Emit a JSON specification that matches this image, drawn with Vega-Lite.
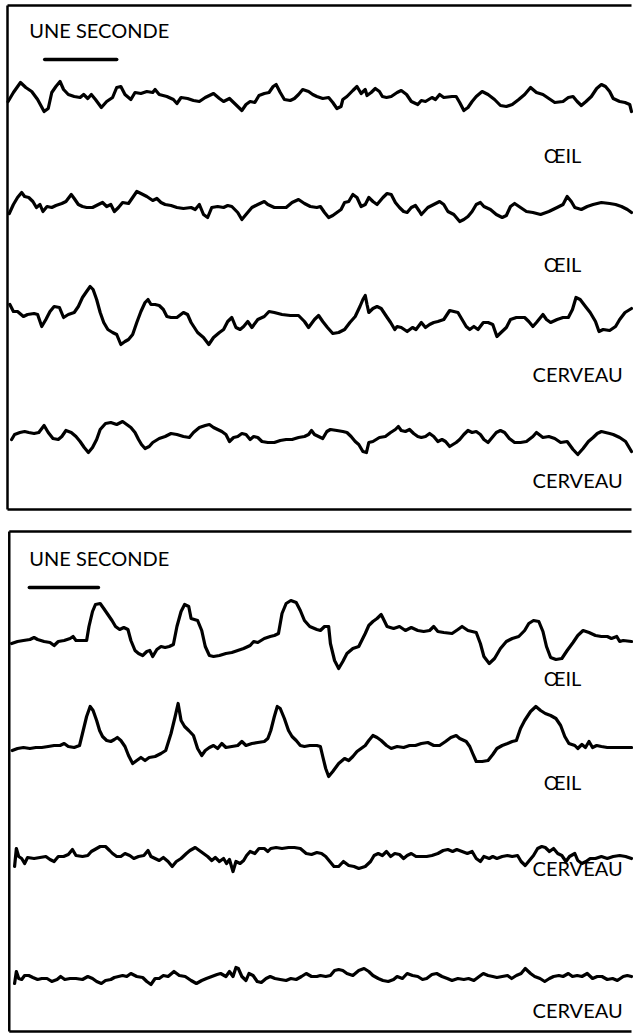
{
"$schema":"https://vega.github.io/schema/vega-lite/v6.json",
"padding":{"left":5.5,"top":3.5,"right":0,"bottom":0},
"background":"white",
"config":{"view":{"stroke":null},"text":{"font":"Lato","fontSize":20,"color":"#000"}},
"spacing":18,
"datasets":{
"top":[
{"s":"a","t":0.01,"v":408},{"s":"a","t":0.10,"v":417},{"s":"a","t":0.22,"v":427},{"s":"a","t":0.31,"v":422},{"s":"a","t":0.41,"v":418},{"s":"a","t":0.51,"v":410},{"s":"a","t":0.62,"v":398},{"s":"a","t":0.69,"v":401},{"s":"a","t":0.75,"v":417},{"s":"a","t":0.82,"v":423},{"s":"a","t":0.89,"v":428},{"s":"a","t":0.95,"v":420},{"s":"a","t":1.03,"v":415},{"s":"a","t":1.13,"v":413},{"s":"a","t":1.23,"v":412},{"s":"a","t":1.29,"v":415},{"s":"a","t":1.36,"v":411},{"s":"a","t":1.42,"v":415},{"s":"a","t":1.49,"v":410},{"s":"a","t":1.59,"v":402},{"s":"a","t":1.68,"v":408},{"s":"a","t":1.78,"v":412},{"s":"a","t":1.85,"v":422},{"s":"a","t":1.92,"v":423},{"s":"a","t":1.99,"v":415},{"s":"a","t":2.09,"v":410},{"s":"a","t":2.16,"v":417},{"s":"a","t":2.26,"v":416},{"s":"a","t":2.36,"v":418},{"s":"a","t":2.46,"v":417},{"s":"a","t":2.50,"v":420},{"s":"a","t":2.57,"v":415},{"s":"a","t":2.70,"v":413},{"s":"a","t":2.81,"v":410},{"s":"a","t":2.87,"v":406},{"s":"a","t":2.94,"v":412},{"s":"a","t":3.05,"v":411},{"s":"a","t":3.15,"v":409},{"s":"a","t":3.25,"v":408},{"s":"a","t":3.35,"v":412},{"s":"a","t":3.42,"v":414},{"s":"a","t":3.49,"v":416},{"s":"a","t":3.59,"v":411},{"s":"a","t":3.66,"v":408},{"s":"a","t":3.76,"v":411},{"s":"a","t":3.83,"v":407},{"s":"a","t":3.90,"v":403},{"s":"a","t":3.97,"v":399},{"s":"a","t":4.04,"v":405},{"s":"a","t":4.11,"v":408},{"s":"a","t":4.19,"v":407},{"s":"a","t":4.26,"v":414},{"s":"a","t":4.35,"v":416},{"s":"a","t":4.43,"v":417},{"s":"a","t":4.50,"v":423},{"s":"a","t":4.55,"v":425},{"s":"a","t":4.62,"v":417},{"s":"a","t":4.69,"v":410},{"s":"a","t":4.79,"v":409},{"s":"a","t":4.86,"v":411},{"s":"a","t":4.93,"v":415},{"s":"a","t":5.00,"v":420},{"s":"a","t":5.10,"v":418},{"s":"a","t":5.17,"v":415},{"s":"a","t":5.24,"v":413},{"s":"a","t":5.34,"v":411},{"s":"a","t":5.44,"v":412},{"s":"a","t":5.51,"v":407},{"s":"a","t":5.58,"v":401},{"s":"a","t":5.65,"v":403},{"s":"a","t":5.68,"v":410},{"s":"a","t":5.75,"v":413},{"s":"a","t":5.85,"v":419},{"s":"a","t":5.92,"v":423},{"s":"a","t":5.99,"v":416},{"s":"a","t":6.06,"v":420},{"s":"a","t":6.09,"v":414},{"s":"a","t":6.16,"v":417},{"s":"a","t":6.23,"v":421},{"s":"a","t":6.30,"v":418},{"s":"a","t":6.35,"v":413},{"s":"a","t":6.42,"v":412},{"s":"a","t":6.50,"v":413},{"s":"a","t":6.60,"v":417},{"s":"a","t":6.67,"v":419},{"s":"a","t":6.76,"v":415},{"s":"a","t":6.84,"v":408},{"s":"a","t":6.95,"v":405},{"s":"a","t":7.01,"v":409},{"s":"a","t":7.08,"v":408},{"s":"a","t":7.19,"v":412},{"s":"a","t":7.25,"v":410},{"s":"a","t":7.32,"v":415},{"s":"a","t":7.39,"v":412},{"s":"a","t":7.53,"v":413},{"s":"a","t":7.60,"v":413},{"s":"a","t":7.66,"v":407},{"s":"a","t":7.73,"v":399},{"s":"a","t":7.80,"v":402},{"s":"a","t":7.87,"v":408},{"s":"a","t":7.94,"v":413},{"s":"a","t":8.04,"v":418},{"s":"a","t":8.14,"v":415},{"s":"a","t":8.25,"v":410},{"s":"a","t":8.35,"v":404},{"s":"a","t":8.45,"v":403},{"s":"a","t":8.55,"v":405},{"s":"a","t":8.66,"v":410},{"s":"a","t":8.76,"v":415},{"s":"a","t":8.86,"v":422},{"s":"a","t":8.96,"v":417},{"s":"a","t":9.07,"v":415},{"s":"a","t":9.17,"v":411},{"s":"a","t":9.27,"v":407},{"s":"a","t":9.41,"v":408},{"s":"a","t":9.50,"v":412},{"s":"a","t":9.58,"v":413},{"s":"a","t":9.65,"v":408},{"s":"a","t":9.72,"v":404},{"s":"a","t":9.80,"v":408},{"s":"a","t":9.89,"v":413},{"s":"a","t":9.98,"v":421},{"s":"a","t":10.06,"v":425},{"s":"a","t":10.13,"v":423},{"s":"a","t":10.20,"v":418},{"s":"a","t":10.26,"v":411},{"s":"a","t":10.37,"v":408},{"s":"a","t":10.46,"v":407},{"s":"a","t":10.54,"v":405},{"s":"a","t":10.57,"v":398},
{"s":"b","t":0.03,"v":296},{"s":"b","t":0.10,"v":305},{"s":"b","t":0.17,"v":312},{"s":"b","t":0.24,"v":317},{"s":"b","t":0.29,"v":313},{"s":"b","t":0.36,"v":312},{"s":"b","t":0.43,"v":308},{"s":"b","t":0.49,"v":302},{"s":"b","t":0.55,"v":305},{"s":"b","t":0.60,"v":298},{"s":"b","t":0.67,"v":303},{"s":"b","t":0.75,"v":302},{"s":"b","t":0.82,"v":304},{"s":"b","t":0.92,"v":306},{"s":"b","t":0.99,"v":308},{"s":"b","t":1.08,"v":315},{"s":"b","t":1.13,"v":311},{"s":"b","t":1.20,"v":305},{"s":"b","t":1.27,"v":303},{"s":"b","t":1.34,"v":302},{"s":"b","t":1.44,"v":302},{"s":"b","t":1.54,"v":305},{"s":"b","t":1.61,"v":307},{"s":"b","t":1.68,"v":303},{"s":"b","t":1.75,"v":305},{"s":"b","t":1.81,"v":298},{"s":"b","t":1.88,"v":302},{"s":"b","t":1.95,"v":307},{"s":"b","t":2.05,"v":306},{"s":"b","t":2.12,"v":312},{"s":"b","t":2.19,"v":318},{"s":"b","t":2.26,"v":316},{"s":"b","t":2.36,"v":313},{"s":"b","t":2.46,"v":309},{"s":"b","t":2.53,"v":311},{"s":"b","t":2.60,"v":307},{"s":"b","t":2.67,"v":305},{"s":"b","t":2.77,"v":304},{"s":"b","t":2.87,"v":302},{"s":"b","t":2.98,"v":301},{"s":"b","t":3.11,"v":302},{"s":"b","t":3.18,"v":300},{"s":"b","t":3.25,"v":305},{"s":"b","t":3.32,"v":295},{"s":"b","t":3.39,"v":292},{"s":"b","t":3.46,"v":302},{"s":"b","t":3.56,"v":303},{"s":"b","t":3.66,"v":302},{"s":"b","t":3.73,"v":304},{"s":"b","t":3.80,"v":303},{"s":"b","t":3.90,"v":297},{"s":"b","t":3.97,"v":290},{"s":"b","t":4.04,"v":295},{"s":"b","t":4.14,"v":302},{"s":"b","t":4.24,"v":305},{"s":"b","t":4.35,"v":308},{"s":"b","t":4.41,"v":305},{"s":"b","t":4.52,"v":302},{"s":"b","t":4.62,"v":302},{"s":"b","t":4.72,"v":302},{"s":"b","t":4.82,"v":307},{"s":"b","t":4.93,"v":310},{"s":"b","t":5.03,"v":306},{"s":"b","t":5.13,"v":303},{"s":"b","t":5.24,"v":302},{"s":"b","t":5.30,"v":303},{"s":"b","t":5.37,"v":297},{"s":"b","t":5.44,"v":292},{"s":"b","t":5.51,"v":294},{"s":"b","t":5.58,"v":297},{"s":"b","t":5.65,"v":300},{"s":"b","t":5.71,"v":307},{"s":"b","t":5.78,"v":308},{"s":"b","t":5.85,"v":315},{"s":"b","t":5.92,"v":312},{"s":"b","t":5.99,"v":303},{"s":"b","t":6.06,"v":305},{"s":"b","t":6.12,"v":312},{"s":"b","t":6.19,"v":308},{"s":"b","t":6.26,"v":305},{"s":"b","t":6.36,"v":312},{"s":"b","t":6.43,"v":316},{"s":"b","t":6.50,"v":315},{"s":"b","t":6.57,"v":307},{"s":"b","t":6.64,"v":302},{"s":"b","t":6.71,"v":298},{"s":"b","t":6.77,"v":297},{"s":"b","t":6.84,"v":302},{"s":"b","t":6.91,"v":304},{"s":"b","t":6.98,"v":298},{"s":"b","t":7.01,"v":295},{"s":"b","t":7.12,"v":302},{"s":"b","t":7.22,"v":305},{"s":"b","t":7.32,"v":308},{"s":"b","t":7.39,"v":305},{"s":"b","t":7.46,"v":298},{"s":"b","t":7.56,"v":295},{"s":"b","t":7.66,"v":288},{"s":"b","t":7.73,"v":290},{"s":"b","t":7.80,"v":293},{"s":"b","t":7.87,"v":298},{"s":"b","t":7.94,"v":305},{"s":"b","t":8.01,"v":307},{"s":"b","t":8.07,"v":303},{"s":"b","t":8.18,"v":300},{"s":"b","t":8.28,"v":295},{"s":"b","t":8.38,"v":292},{"s":"b","t":8.45,"v":294},{"s":"b","t":8.52,"v":303},{"s":"b","t":8.59,"v":306},{"s":"b","t":8.69,"v":302},{"s":"b","t":8.79,"v":298},{"s":"b","t":8.90,"v":297},{"s":"b","t":9.03,"v":295},{"s":"b","t":9.17,"v":298},{"s":"b","t":9.31,"v":302},{"s":"b","t":9.41,"v":305},{"s":"b","t":9.48,"v":313},{"s":"b","t":9.55,"v":308},{"s":"b","t":9.61,"v":302},{"s":"b","t":9.72,"v":300},{"s":"b","t":9.82,"v":303},{"s":"b","t":9.92,"v":305},{"s":"b","t":10.06,"v":307},{"s":"b","t":10.20,"v":306},{"s":"b","t":10.30,"v":305},{"s":"b","t":10.40,"v":303},{"s":"b","t":10.50,"v":300},{"s":"b","t":10.57,"v":297},
{"s":"c","t":0.04,"v":205},{"s":"c","t":0.10,"v":198},{"s":"c","t":0.17,"v":198},{"s":"c","t":0.27,"v":193},{"s":"c","t":0.34,"v":195},{"s":"c","t":0.45,"v":196},{"s":"c","t":0.51,"v":195},{"s":"c","t":0.58,"v":183},{"s":"c","t":0.65,"v":190},{"s":"c","t":0.72,"v":198},{"s":"c","t":0.79,"v":203},{"s":"c","t":0.88,"v":202},{"s":"c","t":0.95,"v":192},{"s":"c","t":1.03,"v":195},{"s":"c","t":1.13,"v":197},{"s":"c","t":1.20,"v":203},{"s":"c","t":1.27,"v":212},{"s":"c","t":1.34,"v":218},{"s":"c","t":1.40,"v":223},{"s":"c","t":1.45,"v":220},{"s":"c","t":1.51,"v":210},{"s":"c","t":1.57,"v":197},{"s":"c","t":1.63,"v":187},{"s":"c","t":1.70,"v":180},{"s":"c","t":1.78,"v":177},{"s":"c","t":1.85,"v":175},{"s":"c","t":1.92,"v":165},{"s":"c","t":1.99,"v":168},{"s":"c","t":2.05,"v":170},{"s":"c","t":2.12,"v":175},{"s":"c","t":2.19,"v":187},{"s":"c","t":2.26,"v":198},{"s":"c","t":2.33,"v":207},{"s":"c","t":2.38,"v":210},{"s":"c","t":2.43,"v":205},{"s":"c","t":2.50,"v":205},{"s":"c","t":2.57,"v":204},{"s":"c","t":2.64,"v":200},{"s":"c","t":2.70,"v":193},{"s":"c","t":2.77,"v":192},{"s":"c","t":2.87,"v":192},{"s":"c","t":2.98,"v":197},{"s":"c","t":3.05,"v":195},{"s":"c","t":3.11,"v":187},{"s":"c","t":3.22,"v":177},{"s":"c","t":3.32,"v":172},{"s":"c","t":3.41,"v":165},{"s":"c","t":3.49,"v":172},{"s":"c","t":3.59,"v":177},{"s":"c","t":3.66,"v":180},{"s":"c","t":3.73,"v":188},{"s":"c","t":3.80,"v":192},{"s":"c","t":3.87,"v":182},{"s":"c","t":3.94,"v":180},{"s":"c","t":4.00,"v":183},{"s":"c","t":4.07,"v":188},{"s":"c","t":4.14,"v":182},{"s":"c","t":4.24,"v":190},{"s":"c","t":4.35,"v":193},{"s":"c","t":4.43,"v":198},{"s":"c","t":4.52,"v":197},{"s":"c","t":4.65,"v":195},{"s":"c","t":4.79,"v":194},{"s":"c","t":4.93,"v":194},{"s":"c","t":5.03,"v":188},{"s":"c","t":5.10,"v":182},{"s":"c","t":5.20,"v":190},{"s":"c","t":5.27,"v":194},{"s":"c","t":5.34,"v":188},{"s":"c","t":5.42,"v":182},{"s":"c","t":5.51,"v":176},{"s":"c","t":5.61,"v":177},{"s":"c","t":5.71,"v":180},{"s":"c","t":5.80,"v":187},{"s":"c","t":5.89,"v":193},{"s":"c","t":5.97,"v":203},{"s":"c","t":6.02,"v":210},{"s":"c","t":6.06,"v":214},{"s":"c","t":6.09,"v":205},{"s":"c","t":6.12,"v":197},{"s":"c","t":6.19,"v":201},{"s":"c","t":6.26,"v":203},{"s":"c","t":6.33,"v":201},{"s":"c","t":6.42,"v":193},{"s":"c","t":6.49,"v":187},{"s":"c","t":6.56,"v":180},{"s":"c","t":6.60,"v":183},{"s":"c","t":6.67,"v":182},{"s":"c","t":6.77,"v":178},{"s":"c","t":6.86,"v":182},{"s":"c","t":6.92,"v":180},{"s":"c","t":7.01,"v":187},{"s":"c","t":7.08,"v":182},{"s":"c","t":7.15,"v":185},{"s":"c","t":7.22,"v":187},{"s":"c","t":7.29,"v":188},{"s":"c","t":7.39,"v":190},{"s":"c","t":7.49,"v":199},{"s":"c","t":7.56,"v":198},{"s":"c","t":7.63,"v":197},{"s":"c","t":7.70,"v":190},{"s":"c","t":7.77,"v":183},{"s":"c","t":7.83,"v":180},{"s":"c","t":7.90,"v":183},{"s":"c","t":7.97,"v":180},{"s":"c","t":8.06,"v":187},{"s":"c","t":8.14,"v":187},{"s":"c","t":8.22,"v":185},{"s":"c","t":8.29,"v":173},{"s":"c","t":8.36,"v":177},{"s":"c","t":8.45,"v":182},{"s":"c","t":8.52,"v":190},{"s":"c","t":8.62,"v":192},{"s":"c","t":8.76,"v":192},{"s":"c","t":8.83,"v":188},{"s":"c","t":8.90,"v":183},{"s":"c","t":8.96,"v":187},{"s":"c","t":9.07,"v":195},{"s":"c","t":9.13,"v":190},{"s":"c","t":9.20,"v":187},{"s":"c","t":9.31,"v":190},{"s":"c","t":9.41,"v":192},{"s":"c","t":9.50,"v":192},{"s":"c","t":9.57,"v":200},{"s":"c","t":9.63,"v":212},{"s":"c","t":9.70,"v":210},{"s":"c","t":9.79,"v":203},{"s":"c","t":9.87,"v":197},{"s":"c","t":9.96,"v":188},{"s":"c","t":10.02,"v":178},{"s":"c","t":10.09,"v":180},{"s":"c","t":10.20,"v":179},{"s":"c","t":10.30,"v":183},{"s":"c","t":10.37,"v":190},{"s":"c","t":10.46,"v":197},{"s":"c","t":10.57,"v":201},
{"s":"d","t":0.07,"v":70},{"s":"d","t":0.12,"v":75},{"s":"d","t":0.21,"v":77},{"s":"d","t":0.29,"v":78},{"s":"d","t":0.36,"v":77},{"s":"d","t":0.45,"v":76},{"s":"d","t":0.53,"v":77},{"s":"d","t":0.62,"v":84},{"s":"d","t":0.69,"v":77},{"s":"d","t":0.77,"v":71},{"s":"d","t":0.86,"v":70},{"s":"d","t":0.92,"v":73},{"s":"d","t":0.99,"v":79},{"s":"d","t":1.08,"v":77},{"s":"d","t":1.16,"v":73},{"s":"d","t":1.23,"v":68},{"s":"d","t":1.30,"v":62},{"s":"d","t":1.37,"v":57},{"s":"d","t":1.44,"v":62},{"s":"d","t":1.51,"v":70},{"s":"d","t":1.57,"v":80},{"s":"d","t":1.66,"v":86},{"s":"d","t":1.75,"v":87},{"s":"d","t":1.85,"v":85},{"s":"d","t":1.95,"v":88},{"s":"d","t":2.02,"v":85},{"s":"d","t":2.09,"v":82},{"s":"d","t":2.16,"v":77},{"s":"d","t":2.22,"v":70},{"s":"d","t":2.27,"v":65},{"s":"d","t":2.33,"v":61},{"s":"d","t":2.40,"v":63},{"s":"d","t":2.46,"v":67},{"s":"d","t":2.57,"v":71},{"s":"d","t":2.67,"v":73},{"s":"d","t":2.77,"v":76},{"s":"d","t":2.87,"v":75},{"s":"d","t":2.98,"v":73},{"s":"d","t":3.08,"v":72},{"s":"d","t":3.15,"v":77},{"s":"d","t":3.25,"v":82},{"s":"d","t":3.35,"v":84},{"s":"d","t":3.42,"v":85},{"s":"d","t":3.49,"v":82},{"s":"d","t":3.56,"v":80},{"s":"d","t":3.63,"v":78},{"s":"d","t":3.70,"v":75},{"s":"d","t":3.76,"v":68},{"s":"d","t":3.83,"v":72},{"s":"d","t":3.90,"v":73},{"s":"d","t":3.97,"v":76},{"s":"d","t":4.04,"v":75},{"s":"d","t":4.11,"v":70},{"s":"d","t":4.17,"v":73},{"s":"d","t":4.24,"v":72},{"s":"d","t":4.31,"v":68},{"s":"d","t":4.41,"v":67},{"s":"d","t":4.52,"v":67},{"s":"d","t":4.62,"v":69},{"s":"d","t":4.72,"v":70},{"s":"d","t":4.82,"v":70},{"s":"d","t":4.93,"v":72},{"s":"d","t":5.03,"v":73},{"s":"d","t":5.10,"v":75},{"s":"d","t":5.15,"v":79},{"s":"d","t":5.20,"v":75},{"s":"d","t":5.27,"v":73},{"s":"d","t":5.34,"v":71},{"s":"d","t":5.41,"v":78},{"s":"d","t":5.47,"v":80},{"s":"d","t":5.58,"v":79},{"s":"d","t":5.68,"v":78},{"s":"d","t":5.75,"v":77},{"s":"d","t":5.82,"v":73},{"s":"d","t":5.89,"v":68},{"s":"d","t":5.95,"v":65},{"s":"d","t":6.02,"v":58},{"s":"d","t":6.08,"v":57},{"s":"d","t":6.12,"v":67},{"s":"d","t":6.19,"v":68},{"s":"d","t":6.30,"v":72},{"s":"d","t":6.40,"v":73},{"s":"d","t":6.49,"v":77},{"s":"d","t":6.57,"v":80},{"s":"d","t":6.62,"v":83},{"s":"d","t":6.67,"v":79},{"s":"d","t":6.74,"v":78},{"s":"d","t":6.81,"v":80},{"s":"d","t":6.88,"v":76},{"s":"d","t":6.95,"v":73},{"s":"d","t":7.01,"v":72},{"s":"d","t":7.08,"v":73},{"s":"d","t":7.15,"v":76},{"s":"d","t":7.22,"v":73},{"s":"d","t":7.29,"v":68},{"s":"d","t":7.36,"v":70},{"s":"d","t":7.42,"v":68},{"s":"d","t":7.49,"v":63},{"s":"d","t":7.60,"v":67},{"s":"d","t":7.66,"v":70},{"s":"d","t":7.73,"v":75},{"s":"d","t":7.80,"v":79},{"s":"d","t":7.87,"v":77},{"s":"d","t":7.94,"v":78},{"s":"d","t":8.01,"v":75},{"s":"d","t":8.07,"v":70},{"s":"d","t":8.14,"v":67},{"s":"d","t":8.21,"v":72},{"s":"d","t":8.28,"v":77},{"s":"d","t":8.35,"v":79},{"s":"d","t":8.42,"v":77},{"s":"d","t":8.50,"v":71},{"s":"d","t":8.59,"v":67},{"s":"d","t":8.69,"v":67},{"s":"d","t":8.79,"v":68},{"s":"d","t":8.90,"v":73},{"s":"d","t":8.96,"v":77},{"s":"d","t":9.07,"v":72},{"s":"d","t":9.17,"v":73},{"s":"d","t":9.27,"v":71},{"s":"d","t":9.37,"v":67},{"s":"d","t":9.48,"v":68},{"s":"d","t":9.58,"v":60},{"s":"d","t":9.66,"v":55},{"s":"d","t":9.75,"v":61},{"s":"d","t":9.84,"v":68},{"s":"d","t":9.92,"v":72},{"s":"d","t":9.99,"v":76},{"s":"d","t":10.06,"v":78},{"s":"d","t":10.13,"v":77},{"s":"d","t":10.20,"v":76},{"s":"d","t":10.26,"v":75},{"s":"d","t":10.37,"v":72},{"s":"d","t":10.47,"v":68},{"s":"d","t":10.57,"v":58}
],
"bot":[
{"s":"a","t":0.07,"v":388},{"s":"a","t":0.17,"v":390},{"s":"a","t":0.27,"v":391},{"s":"a","t":0.38,"v":392},{"s":"a","t":0.45,"v":394},{"s":"a","t":0.51,"v":392},{"s":"a","t":0.62,"v":390},{"s":"a","t":0.72,"v":389},{"s":"a","t":0.79,"v":386},{"s":"a","t":0.86,"v":390},{"s":"a","t":0.96,"v":391},{"s":"a","t":1.06,"v":393},{"s":"a","t":1.11,"v":395},{"s":"a","t":1.16,"v":391},{"s":"a","t":1.27,"v":391},{"s":"a","t":1.34,"v":391},{"s":"a","t":1.38,"v":405},{"s":"a","t":1.44,"v":420},{"s":"a","t":1.49,"v":427},{"s":"a","t":1.57,"v":428},{"s":"a","t":1.63,"v":423},{"s":"a","t":1.70,"v":417},{"s":"a","t":1.77,"v":411},{"s":"a","t":1.83,"v":405},{"s":"a","t":1.90,"v":402},{"s":"a","t":1.97,"v":404},{"s":"a","t":2.04,"v":402},{"s":"a","t":2.09,"v":391},{"s":"a","t":2.16,"v":381},{"s":"a","t":2.22,"v":378},{"s":"a","t":2.29,"v":376},{"s":"a","t":2.36,"v":380},{"s":"a","t":2.41,"v":381},{"s":"a","t":2.46,"v":375},{"s":"a","t":2.53,"v":382},{"s":"a","t":2.60,"v":385},{"s":"a","t":2.67,"v":384},{"s":"a","t":2.74,"v":385},{"s":"a","t":2.81,"v":387},{"s":"a","t":2.87,"v":405},{"s":"a","t":2.94,"v":420},{"s":"a","t":3.00,"v":427},{"s":"a","t":3.07,"v":425},{"s":"a","t":3.11,"v":413},{"s":"a","t":3.22,"v":411},{"s":"a","t":3.29,"v":401},{"s":"a","t":3.35,"v":385},{"s":"a","t":3.42,"v":376},{"s":"a","t":3.49,"v":375},{"s":"a","t":3.59,"v":376},{"s":"a","t":3.70,"v":378},{"s":"a","t":3.80,"v":379},{"s":"a","t":3.90,"v":381},{"s":"a","t":4.00,"v":383},{"s":"a","t":4.11,"v":386},{"s":"a","t":4.17,"v":390},{"s":"a","t":4.24,"v":389},{"s":"a","t":4.35,"v":393},{"s":"a","t":4.45,"v":395},{"s":"a","t":4.52,"v":396},{"s":"a","t":4.59,"v":398},{"s":"a","t":4.65,"v":418},{"s":"a","t":4.72,"v":428},{"s":"a","t":4.80,"v":431},{"s":"a","t":4.89,"v":429},{"s":"a","t":4.96,"v":421},{"s":"a","t":5.03,"v":411},{"s":"a","t":5.12,"v":405},{"s":"a","t":5.24,"v":402},{"s":"a","t":5.30,"v":401},{"s":"a","t":5.37,"v":405},{"s":"a","t":5.44,"v":405},{"s":"a","t":5.47,"v":388},{"s":"a","t":5.54,"v":371},{"s":"a","t":5.61,"v":363},{"s":"a","t":5.68,"v":370},{"s":"a","t":5.75,"v":378},{"s":"a","t":5.85,"v":383},{"s":"a","t":5.95,"v":385},{"s":"a","t":6.06,"v":398},{"s":"a","t":6.12,"v":406},{"s":"a","t":6.19,"v":410},{"s":"a","t":6.26,"v":413},{"s":"a","t":6.33,"v":417},{"s":"a","t":6.38,"v":411},{"s":"a","t":6.43,"v":405},{"s":"a","t":6.54,"v":403},{"s":"a","t":6.64,"v":405},{"s":"a","t":6.74,"v":401},{"s":"a","t":6.84,"v":404},{"s":"a","t":6.95,"v":401},{"s":"a","t":7.05,"v":400},{"s":"a","t":7.15,"v":401},{"s":"a","t":7.22,"v":405},{"s":"a","t":7.29,"v":400},{"s":"a","t":7.39,"v":399},{"s":"a","t":7.53,"v":398},{"s":"a","t":7.63,"v":402},{"s":"a","t":7.70,"v":405},{"s":"a","t":7.80,"v":401},{"s":"a","t":7.94,"v":399},{"s":"a","t":8.01,"v":388},{"s":"a","t":8.07,"v":375},{"s":"a","t":8.16,"v":368},{"s":"a","t":8.25,"v":373},{"s":"a","t":8.35,"v":383},{"s":"a","t":8.45,"v":390},{"s":"a","t":8.55,"v":393},{"s":"a","t":8.66,"v":395},{"s":"a","t":8.76,"v":401},{"s":"a","t":8.83,"v":408},{"s":"a","t":8.91,"v":411},{"s":"a","t":9.00,"v":410},{"s":"a","t":9.07,"v":400},{"s":"a","t":9.13,"v":385},{"s":"a","t":9.20,"v":374},{"s":"a","t":9.29,"v":372},{"s":"a","t":9.39,"v":373},{"s":"a","t":9.48,"v":381},{"s":"a","t":9.58,"v":389},{"s":"a","t":9.66,"v":396},{"s":"a","t":9.75,"v":401},{"s":"a","t":9.85,"v":399},{"s":"a","t":9.96,"v":396},{"s":"a","t":10.06,"v":395},{"s":"a","t":10.16,"v":395},{"s":"a","t":10.23,"v":393},{"s":"a","t":10.32,"v":395},{"s":"a","t":10.37,"v":390},{"s":"a","t":10.43,"v":391},{"s":"a","t":10.57,"v":390},
{"s":"b","t":0.08,"v":281},{"s":"b","t":0.17,"v":283},{"s":"b","t":0.27,"v":284},{"s":"b","t":0.38,"v":283},{"s":"b","t":0.48,"v":284},{"s":"b","t":0.58,"v":284},{"s":"b","t":0.69,"v":285},{"s":"b","t":0.79,"v":286},{"s":"b","t":0.89,"v":286},{"s":"b","t":0.96,"v":288},{"s":"b","t":1.03,"v":285},{"s":"b","t":1.13,"v":284},{"s":"b","t":1.22,"v":286},{"s":"b","t":1.27,"v":298},{"s":"b","t":1.34,"v":315},{"s":"b","t":1.40,"v":325},{"s":"b","t":1.45,"v":321},{"s":"b","t":1.51,"v":311},{"s":"b","t":1.56,"v":301},{"s":"b","t":1.61,"v":295},{"s":"b","t":1.68,"v":291},{"s":"b","t":1.75,"v":290},{"s":"b","t":1.81,"v":292},{"s":"b","t":1.86,"v":294},{"s":"b","t":1.92,"v":291},{"s":"b","t":1.99,"v":285},{"s":"b","t":2.05,"v":276},{"s":"b","t":2.12,"v":268},{"s":"b","t":2.19,"v":271},{"s":"b","t":2.26,"v":274},{"s":"b","t":2.33,"v":271},{"s":"b","t":2.40,"v":274},{"s":"b","t":2.50,"v":275},{"s":"b","t":2.60,"v":278},{"s":"b","t":2.68,"v":281},{"s":"b","t":2.77,"v":298},{"s":"b","t":2.84,"v":315},{"s":"b","t":2.89,"v":328},{"s":"b","t":2.94,"v":311},{"s":"b","t":3.00,"v":305},{"s":"b","t":3.07,"v":301},{"s":"b","t":3.15,"v":296},{"s":"b","t":3.22,"v":283},{"s":"b","t":3.29,"v":276},{"s":"b","t":3.35,"v":281},{"s":"b","t":3.42,"v":284},{"s":"b","t":3.49,"v":286},{"s":"b","t":3.56,"v":283},{"s":"b","t":3.63,"v":288},{"s":"b","t":3.70,"v":284},{"s":"b","t":3.80,"v":285},{"s":"b","t":3.90,"v":286},{"s":"b","t":3.97,"v":290},{"s":"b","t":4.04,"v":286},{"s":"b","t":4.14,"v":288},{"s":"b","t":4.24,"v":289},{"s":"b","t":4.35,"v":290},{"s":"b","t":4.41,"v":293},{"s":"b","t":4.46,"v":301},{"s":"b","t":4.52,"v":315},{"s":"b","t":4.57,"v":325},{"s":"b","t":4.62,"v":323},{"s":"b","t":4.69,"v":313},{"s":"b","t":4.76,"v":301},{"s":"b","t":4.82,"v":295},{"s":"b","t":4.89,"v":291},{"s":"b","t":4.96,"v":286},{"s":"b","t":5.03,"v":285},{"s":"b","t":5.12,"v":286},{"s":"b","t":5.24,"v":286},{"s":"b","t":5.30,"v":285},{"s":"b","t":5.34,"v":275},{"s":"b","t":5.39,"v":263},{"s":"b","t":5.44,"v":255},{"s":"b","t":5.51,"v":260},{"s":"b","t":5.61,"v":268},{"s":"b","t":5.71,"v":273},{"s":"b","t":5.78,"v":271},{"s":"b","t":5.85,"v":275},{"s":"b","t":5.92,"v":280},{"s":"b","t":5.99,"v":283},{"s":"b","t":6.06,"v":286},{"s":"b","t":6.12,"v":291},{"s":"b","t":6.19,"v":296},{"s":"b","t":6.26,"v":294},{"s":"b","t":6.33,"v":291},{"s":"b","t":6.42,"v":286},{"s":"b","t":6.50,"v":283},{"s":"b","t":6.60,"v":285},{"s":"b","t":6.71,"v":284},{"s":"b","t":6.81,"v":286},{"s":"b","t":6.91,"v":286},{"s":"b","t":7.01,"v":288},{"s":"b","t":7.12,"v":289},{"s":"b","t":7.22,"v":286},{"s":"b","t":7.32,"v":286},{"s":"b","t":7.42,"v":290},{"s":"b","t":7.51,"v":294},{"s":"b","t":7.60,"v":296},{"s":"b","t":7.66,"v":293},{"s":"b","t":7.77,"v":290},{"s":"b","t":7.83,"v":285},{"s":"b","t":7.88,"v":278},{"s":"b","t":7.94,"v":270},{"s":"b","t":8.04,"v":270},{"s":"b","t":8.14,"v":271},{"s":"b","t":8.22,"v":277},{"s":"b","t":8.29,"v":283},{"s":"b","t":8.38,"v":286},{"s":"b","t":8.47,"v":288},{"s":"b","t":8.55,"v":290},{"s":"b","t":8.62,"v":291},{"s":"b","t":8.69,"v":303},{"s":"b","t":8.76,"v":311},{"s":"b","t":8.86,"v":320},{"s":"b","t":8.95,"v":325},{"s":"b","t":9.03,"v":321},{"s":"b","t":9.11,"v":318},{"s":"b","t":9.20,"v":316},{"s":"b","t":9.29,"v":313},{"s":"b","t":9.37,"v":306},{"s":"b","t":9.44,"v":295},{"s":"b","t":9.51,"v":288},{"s":"b","t":9.61,"v":286},{"s":"b","t":9.66,"v":283},{"s":"b","t":9.73,"v":287},{"s":"b","t":9.79,"v":284},{"s":"b","t":9.85,"v":290},{"s":"b","t":9.91,"v":284},{"s":"b","t":9.98,"v":286},{"s":"b","t":10.06,"v":285},{"s":"b","t":10.16,"v":284},{"s":"b","t":10.30,"v":284},{"s":"b","t":10.43,"v":284},{"s":"b","t":10.57,"v":284},
{"s":"c","t":0.12,"v":165},{"s":"c","t":0.15,"v":183},{"s":"c","t":0.19,"v":175},{"s":"c","t":0.24,"v":173},{"s":"c","t":0.29,"v":168},{"s":"c","t":0.34,"v":174},{"s":"c","t":0.45,"v":173},{"s":"c","t":0.55,"v":174},{"s":"c","t":0.65,"v":175},{"s":"c","t":0.72,"v":172},{"s":"c","t":0.79,"v":170},{"s":"c","t":0.86,"v":175},{"s":"c","t":0.95,"v":175},{"s":"c","t":1.03,"v":177},{"s":"c","t":1.10,"v":182},{"s":"c","t":1.16,"v":176},{"s":"c","t":1.27,"v":175},{"s":"c","t":1.36,"v":176},{"s":"c","t":1.42,"v":180},{"s":"c","t":1.51,"v":183},{"s":"c","t":1.57,"v":185},{"s":"c","t":1.66,"v":185},{"s":"c","t":1.73,"v":181},{"s":"c","t":1.78,"v":178},{"s":"c","t":1.85,"v":175},{"s":"c","t":1.92,"v":175},{"s":"c","t":1.99,"v":178},{"s":"c","t":2.07,"v":176},{"s":"c","t":2.14,"v":173},{"s":"c","t":2.22,"v":175},{"s":"c","t":2.31,"v":176},{"s":"c","t":2.38,"v":181},{"s":"c","t":2.43,"v":175},{"s":"c","t":2.50,"v":173},{"s":"c","t":2.57,"v":171},{"s":"c","t":2.64,"v":174},{"s":"c","t":2.72,"v":170},{"s":"c","t":2.79,"v":165},{"s":"c","t":2.86,"v":170},{"s":"c","t":2.94,"v":173},{"s":"c","t":3.03,"v":178},{"s":"c","t":3.09,"v":181},{"s":"c","t":3.18,"v":184},{"s":"c","t":3.25,"v":181},{"s":"c","t":3.32,"v":178},{"s":"c","t":3.39,"v":175},{"s":"c","t":3.46,"v":171},{"s":"c","t":3.52,"v":174},{"s":"c","t":3.59,"v":170},{"s":"c","t":3.66,"v":173},{"s":"c","t":3.71,"v":168},{"s":"c","t":3.76,"v":172},{"s":"c","t":3.82,"v":160},{"s":"c","t":3.87,"v":170},{"s":"c","t":3.94,"v":168},{"s":"c","t":4.00,"v":171},{"s":"c","t":4.05,"v":176},{"s":"c","t":4.11,"v":180},{"s":"c","t":4.19,"v":178},{"s":"c","t":4.26,"v":183},{"s":"c","t":4.35,"v":183},{"s":"c","t":4.41,"v":180},{"s":"c","t":4.46,"v":183},{"s":"c","t":4.55,"v":184},{"s":"c","t":4.65,"v":183},{"s":"c","t":4.76,"v":184},{"s":"c","t":4.86,"v":184},{"s":"c","t":4.96,"v":183},{"s":"c","t":5.06,"v":178},{"s":"c","t":5.15,"v":177},{"s":"c","t":5.24,"v":179},{"s":"c","t":5.32,"v":178},{"s":"c","t":5.39,"v":175},{"s":"c","t":5.46,"v":170},{"s":"c","t":5.53,"v":165},{"s":"c","t":5.61,"v":165},{"s":"c","t":5.69,"v":170},{"s":"c","t":5.78,"v":166},{"s":"c","t":5.87,"v":165},{"s":"c","t":5.95,"v":163},{"s":"c","t":6.06,"v":165},{"s":"c","t":6.15,"v":170},{"s":"c","t":6.21,"v":176},{"s":"c","t":6.28,"v":178},{"s":"c","t":6.35,"v":176},{"s":"c","t":6.42,"v":180},{"s":"c","t":6.49,"v":175},{"s":"c","t":6.56,"v":178},{"s":"c","t":6.64,"v":177},{"s":"c","t":6.71,"v":173},{"s":"c","t":6.77,"v":176},{"s":"c","t":6.84,"v":178},{"s":"c","t":6.92,"v":175},{"s":"c","t":7.01,"v":175},{"s":"c","t":7.10,"v":175},{"s":"c","t":7.19,"v":176},{"s":"c","t":7.29,"v":178},{"s":"c","t":7.38,"v":181},{"s":"c","t":7.46,"v":182},{"s":"c","t":7.54,"v":180},{"s":"c","t":7.61,"v":182},{"s":"c","t":7.70,"v":180},{"s":"c","t":7.79,"v":178},{"s":"c","t":7.87,"v":180},{"s":"c","t":7.94,"v":173},{"s":"c","t":8.01,"v":170},{"s":"c","t":8.07,"v":175},{"s":"c","t":8.16,"v":173},{"s":"c","t":8.22,"v":175},{"s":"c","t":8.29,"v":173},{"s":"c","t":8.38,"v":175},{"s":"c","t":8.47,"v":176},{"s":"c","t":8.55,"v":175},{"s":"c","t":8.64,"v":176},{"s":"c","t":8.70,"v":170},{"s":"c","t":8.77,"v":166},{"s":"c","t":8.84,"v":171},{"s":"c","t":8.91,"v":176},{"s":"c","t":8.98,"v":183},{"s":"c","t":9.05,"v":185},{"s":"c","t":9.11,"v":184},{"s":"c","t":9.18,"v":180},{"s":"c","t":9.25,"v":183},{"s":"c","t":9.32,"v":178},{"s":"c","t":9.39,"v":176},{"s":"c","t":9.46,"v":170},{"s":"c","t":9.52,"v":175},{"s":"c","t":9.61,"v":178},{"s":"c","t":9.66,"v":171},{"s":"c","t":9.73,"v":168},{"s":"c","t":9.80,"v":170},{"s":"c","t":9.87,"v":173},{"s":"c","t":9.96,"v":173},{"s":"c","t":10.06,"v":175},{"s":"c","t":10.16,"v":173},{"s":"c","t":10.26,"v":175},{"s":"c","t":10.37,"v":176},{"s":"c","t":10.47,"v":175},{"s":"c","t":10.57,"v":173},
{"s":"d","t":0.12,"v":48},{"s":"d","t":0.15,"v":60},{"s":"d","t":0.19,"v":53},{"s":"d","t":0.24,"v":52},{"s":"d","t":0.29,"v":56},{"s":"d","t":0.36,"v":56},{"s":"d","t":0.43,"v":54},{"s":"d","t":0.51,"v":52},{"s":"d","t":0.58,"v":53},{"s":"d","t":0.67,"v":53},{"s":"d","t":0.75,"v":50},{"s":"d","t":0.84,"v":52},{"s":"d","t":0.90,"v":55},{"s":"d","t":0.97,"v":52},{"s":"d","t":1.06,"v":53},{"s":"d","t":1.16,"v":53},{"s":"d","t":1.27,"v":52},{"s":"d","t":1.36,"v":55},{"s":"d","t":1.44,"v":53},{"s":"d","t":1.51,"v":50},{"s":"d","t":1.59,"v":48},{"s":"d","t":1.66,"v":51},{"s":"d","t":1.75,"v":52},{"s":"d","t":1.81,"v":54},{"s":"d","t":1.88,"v":55},{"s":"d","t":1.95,"v":56},{"s":"d","t":2.02,"v":55},{"s":"d","t":2.09,"v":58},{"s":"d","t":2.19,"v":55},{"s":"d","t":2.29,"v":54},{"s":"d","t":2.36,"v":50},{"s":"d","t":2.43,"v":47},{"s":"d","t":2.50,"v":53},{"s":"d","t":2.57,"v":53},{"s":"d","t":2.64,"v":56},{"s":"d","t":2.72,"v":55},{"s":"d","t":2.82,"v":60},{"s":"d","t":2.91,"v":56},{"s":"d","t":3.01,"v":55},{"s":"d","t":3.11,"v":51},{"s":"d","t":3.20,"v":48},{"s":"d","t":3.29,"v":51},{"s":"d","t":3.37,"v":53},{"s":"d","t":3.46,"v":55},{"s":"d","t":3.55,"v":57},{"s":"d","t":3.61,"v":58},{"s":"d","t":3.70,"v":55},{"s":"d","t":3.76,"v":60},{"s":"d","t":3.82,"v":55},{"s":"d","t":3.87,"v":64},{"s":"d","t":3.91,"v":63},{"s":"d","t":3.97,"v":55},{"s":"d","t":4.04,"v":51},{"s":"d","t":4.09,"v":58},{"s":"d","t":4.16,"v":56},{"s":"d","t":4.23,"v":50},{"s":"d","t":4.30,"v":49},{"s":"d","t":4.38,"v":53},{"s":"d","t":4.45,"v":55},{"s":"d","t":4.53,"v":53},{"s":"d","t":4.62,"v":52},{"s":"d","t":4.72,"v":51},{"s":"d","t":4.80,"v":53},{"s":"d","t":4.89,"v":52},{"s":"d","t":4.98,"v":55},{"s":"d","t":5.06,"v":58},{"s":"d","t":5.15,"v":55},{"s":"d","t":5.24,"v":55},{"s":"d","t":5.30,"v":56},{"s":"d","t":5.39,"v":55},{"s":"d","t":5.47,"v":56},{"s":"d","t":5.54,"v":61},{"s":"d","t":5.61,"v":62},{"s":"d","t":5.68,"v":61},{"s":"d","t":5.75,"v":58},{"s":"d","t":5.85,"v":56},{"s":"d","t":5.95,"v":61},{"s":"d","t":6.04,"v":63},{"s":"d","t":6.12,"v":60},{"s":"d","t":6.19,"v":56},{"s":"d","t":6.28,"v":53},{"s":"d","t":6.36,"v":51},{"s":"d","t":6.45,"v":50},{"s":"d","t":6.54,"v":52},{"s":"d","t":6.60,"v":55},{"s":"d","t":6.69,"v":53},{"s":"d","t":6.77,"v":58},{"s":"d","t":6.86,"v":56},{"s":"d","t":6.95,"v":55},{"s":"d","t":7.03,"v":52},{"s":"d","t":7.10,"v":53},{"s":"d","t":7.19,"v":57},{"s":"d","t":7.27,"v":58},{"s":"d","t":7.36,"v":55},{"s":"d","t":7.45,"v":53},{"s":"d","t":7.53,"v":51},{"s":"d","t":7.63,"v":53},{"s":"d","t":7.73,"v":52},{"s":"d","t":7.81,"v":53},{"s":"d","t":7.90,"v":51},{"s":"d","t":7.99,"v":55},{"s":"d","t":8.06,"v":58},{"s":"d","t":8.14,"v":56},{"s":"d","t":8.22,"v":55},{"s":"d","t":8.29,"v":54},{"s":"d","t":8.38,"v":55},{"s":"d","t":8.47,"v":56},{"s":"d","t":8.54,"v":53},{"s":"d","t":8.62,"v":56},{"s":"d","t":8.70,"v":58},{"s":"d","t":8.77,"v":63},{"s":"d","t":8.86,"v":58},{"s":"d","t":8.93,"v":55},{"s":"d","t":9.02,"v":53},{"s":"d","t":9.10,"v":50},{"s":"d","t":9.18,"v":53},{"s":"d","t":9.25,"v":55},{"s":"d","t":9.34,"v":56},{"s":"d","t":9.41,"v":55},{"s":"d","t":9.50,"v":58},{"s":"d","t":9.57,"v":55},{"s":"d","t":9.65,"v":56},{"s":"d","t":9.73,"v":55},{"s":"d","t":9.82,"v":58},{"s":"d","t":9.91,"v":53},{"s":"d","t":9.99,"v":55},{"s":"d","t":10.07,"v":55},{"s":"d","t":10.16,"v":52},{"s":"d","t":10.25,"v":53},{"s":"d","t":10.33,"v":51},{"s":"d","t":10.43,"v":55},{"s":"d","t":10.50,"v":56},{"s":"d","t":10.57,"v":55}
]
},
"vconcat":[
{
"width":624,"height":504,
"encoding":{
"x":{"field":"t","type":"quantitative","scale":{"domain":[0,10.57],"nice":false,"zero":false},"axis":null},
"y":{"field":"v","type":"quantitative","scale":{"domain":[0,504],"nice":false,"zero":false},"axis":null}
},
"layer":[
{"data":{"values":[{"t":0,"t2":0,"v":0,"v2":504},{"t":0,"t2":10.57,"v":504,"v2":504},{"t":0,"t2":10.57,"v":0,"v2":0}]},"mark":{"type":"rule","color":"black","strokeWidth":2.5},"encoding":{"x2":{"field":"t2"},"y2":{"field":"v2"}}},
{"data":{"name":"top"},"mark":{"type":"line","color":"black","strokeWidth":3.2,"strokeJoin":"round","strokeCap":"round"},"encoding":{"detail":{"field":"s","type":"nominal"}}},
{"data":{"values":[{"t":0.63,"t2":1.85,"v":450}]},"mark":{"type":"rule","color":"black","strokeWidth":3.5,"strokeCap":"round"},"encoding":{"x2":{"field":"t2"}}},
{"data":{"values":[{"label":"UNE SECONDE","t":0.37,"v":472}]},"mark":{"type":"text","align":"left","baseline":"alphabetic"},"encoding":{"text":{"field":"label"}}},
{"data":{"values":[{"label":"ŒIL","t":9.72,"v":347},{"label":"ŒIL","t":9.72,"v":238},{"label":"CERVEAU","t":10.42,"v":128},{"label":"CERVEAU","t":10.42,"v":22}]},"mark":{"type":"text","align":"right","baseline":"alphabetic"},"encoding":{"text":{"field":"label"}}}
]
},
{
"width":624,"height":500,
"encoding":{
"x":{"field":"t","type":"quantitative","scale":{"domain":[0,10.57],"nice":false,"zero":false},"axis":null},
"y":{"field":"v","type":"quantitative","scale":{"domain":[0,500],"nice":false,"zero":false},"axis":null}
},
"layer":[
{"data":{"values":[{"t":0.03,"t2":0.03,"v":0,"v2":500},{"t":0.03,"t2":10.57,"v":500,"v2":500},{"t":0.03,"t2":10.57,"v":0,"v2":0}]},"mark":{"type":"rule","color":"black","strokeWidth":2.5},"encoding":{"x2":{"field":"t2"},"y2":{"field":"v2"}}},
{"data":{"name":"bot"},"mark":{"type":"line","color":"black","strokeWidth":3.2,"strokeJoin":"round","strokeCap":"round"},"encoding":{"detail":{"field":"s","type":"nominal"}}},
{"data":{"values":[{"t":0.37,"t2":1.54,"v":444}]},"mark":{"type":"rule","color":"black","strokeWidth":3.5,"strokeCap":"round"},"encoding":{"x2":{"field":"t2"}}},
{"data":{"values":[{"label":"UNE SECONDE","t":0.37,"v":466}]},"mark":{"type":"text","align":"left","baseline":"alphabetic"},"encoding":{"text":{"field":"label"}}},
{"data":{"values":[{"label":"ŒIL","t":9.72,"v":346},{"label":"ŒIL","t":9.72,"v":242},{"label":"CERVEAU","t":10.42,"v":156},{"label":"CERVEAU","t":10.42,"v":14}]},"mark":{"type":"text","align":"right","baseline":"alphabetic"},"encoding":{"text":{"field":"label"}}}
]
}
]
}
